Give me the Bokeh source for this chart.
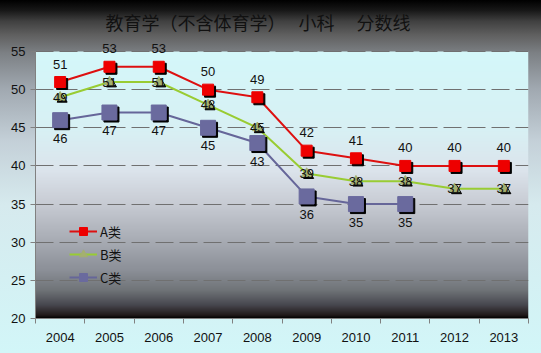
import numpy as np
from bokeh.plotting import figure
from bokeh.models import (ColumnDataSource, Range1d, FixedTicker, Label,
                          Legend, LegendItem)
from bokeh.transform import dodge
from bokeh.embed import file_html
from bokeh.resources import INLINE

# ---------------- data ----------------
years = ["2004", "2005", "2006", "2007", "2008", "2009", "2010", "2011", "2012", "2013"]
a_vals = [51, 53, 53, 50, 49, 42, 41, 40, 40, 40]
b_vals = [49, 51, 51, 48, 45, 39, 38, 38, 37, 37]
c_vals = [46, 47, 47, 45, 43, 36, 35, 35]
y_ticks = [20, 25, 30, 35, 40, 45, 50, 55]
series_names = ["A类", "B类", "C类"]
title_text = "教育学（不含体育学）　 小科　 分数线"

# ---------------- layout ----------------
W, H = 541, 353
L, R, T, B = 35, 13, 36, 35       # T: frame top (frame extends 15px above the 55 line)
EXTRA = 15                        # px of headroom above the plot area for data labels
PH = H - T - B - EXTRA            # plot-area height (20..55)
FW = W - L - R

x0, x1 = -0.5, len(years) - 0.5
y0, y1 = y_ticks[0], y_ticks[-1]
y_top = y1 + EXTRA * (y1 - y0) / PH

p = figure(width=W, height=H, output_backend="svg", toolbar_location=None,
           x_range=Range1d(x0, x1), y_range=Range1d(y0, y_top),
           min_border_left=L, min_border_right=R, min_border_top=T, min_border_bottom=B)
p.border_fill_alpha = 0
p.background_fill_alpha = 0
p.outline_line_color = None
p.styles = {"background": "linear-gradient(to bottom, #000000 0%, #181818 3%, #404040 6%, "
                          "#606060 10%, #7c8084 15%, #a0a8b0 25%, #c4d0d8 40%, "
                          "#d6eaee 58%, #d2f6f8 100%)"}

# title
p.title.text = title_text
p.title.align = "left"
p.title.offset = 70
p.title.standoff = 3
p.title.text_font = "Noto Sans CJK SC"
p.title.text_font_size = "18px"
p.title.text_font_style = "normal"
p.title.text_color = "#111111"

# plot-area gradient background (style only)
stops_t = [0.0, 0.30, 0.446, 0.57, 0.71, 0.82, 0.895, 0.95, 0.99, 1.0]
stops_c = [(212, 248, 250), (216, 240, 244), (220, 228, 236), (200, 204, 212),
           (168, 172, 180), (140, 144, 152), (112, 116, 120), (72, 72, 80),
           (32, 24, 24), (0, 0, 0)]
tt = np.linspace(0, 1, PH)
img = np.empty((PH, 1), dtype=np.uint32)
view = img.view(dtype=np.uint8).reshape((PH, 1, 4))
for ch in range(3):
    col = np.interp(tt, stops_t, [c[ch] for c in stops_c])[::-1]
    view[:, 0, ch] = col.astype(np.uint8)
view[:, 0, 3] = 255
p.image_rgba(image=[img], x=x0, y=y0, dw=x1 - x0, dh=y1 - y0, level="image")

# grid
p.xgrid.visible = False
p.ygrid.ticker = FixedTicker(ticks=y_ticks)
p.ygrid.grid_line_color = "#707070"
p.ygrid.grid_line_dash = "18 6"
p.ygrid.grid_line_width = 1

# axes
idx = list(range(len(years)))
p.xaxis.ticker = FixedTicker(ticks=idx, minor_ticks=[i - 0.5 for i in range(len(years) + 1)])
p.xaxis.major_label_overrides = {i: yv for i, yv in enumerate(years)}
p.xaxis.major_tick_line_color = None
p.xaxis.minor_tick_in = 0
p.xaxis.minor_tick_out = 5
p.xaxis.minor_tick_line_color = "#808080"
p.xaxis.major_label_standoff = 8
p.yaxis.ticker = FixedTicker(ticks=y_ticks)
p.yaxis.bounds = (y0, y1)
p.yaxis.major_tick_in = 0
p.yaxis.major_tick_out = 5
p.yaxis.minor_tick_line_color = None
p.yaxis.major_tick_line_color = "#808080"
p.yaxis.major_label_standoff = 5
for ax in (p.xaxis, p.yaxis):
    ax.axis_line_color = "#808080"
    ax.major_label_text_font = "Liberation Sans"
    ax.major_label_text_font_size = "13px"
    ax.major_label_text_color = "#111111"

# shadow offsets (2 px right, 2 px down) in data units
sdx = 2 * (x1 - x0) / FW
sdy = -2 * (y1 - y0) / PH

specs = [
    (a_vals, "#dd1010", "square", 11, "#ee0000", 18),
    (b_vals, "#99cc33", "triangle", 10, "#a4b070", 0),
    (c_vals, "#666699", "square", 15, "#6a6a9e", -18),
]

items = []
for name, (vals, lc, mk, sz, fc, yoff) in zip(series_names, specs):
    xs = idx[:len(vals)]
    src = ColumnDataSource(dict(x=xs, y=vals))
    ln = p.line("x", "y", source=src, line_color=lc, line_width=2)
    p.scatter(x=dodge("x", sdx), y=dodge("y", sdy), source=src, marker=mk, size=sz,
              fill_color="#000000", line_color="#000000")
    sc = p.scatter("x", "y", source=src, marker=mk, size=sz, fill_color=fc, line_color=fc)
    for xv, yv in zip(xs, vals):
        p.add_layout(Label(x=xv, y=yv, text=str(yv), y_offset=yoff,
                           text_align="center", text_baseline="middle",
                           text_font="Liberation Sans", text_font_size="13px",
                           text_color="#111111"))
    items.append(LegendItem(label=name, renderers=[ln, sc]))

legend = Legend(items=items, location=(34, 31), background_fill_alpha=0,
                border_line_color=None, padding=0, margin=0, spacing=3,
                glyph_width=28, glyph_height=20, label_height=20, label_standoff=3,
                label_text_font="Noto Sans CJK SC", label_text_font_size="13px",
                label_text_color="#111111")
p.add_layout(legend)

open("out.html", "w").write(file_html(p, INLINE))
